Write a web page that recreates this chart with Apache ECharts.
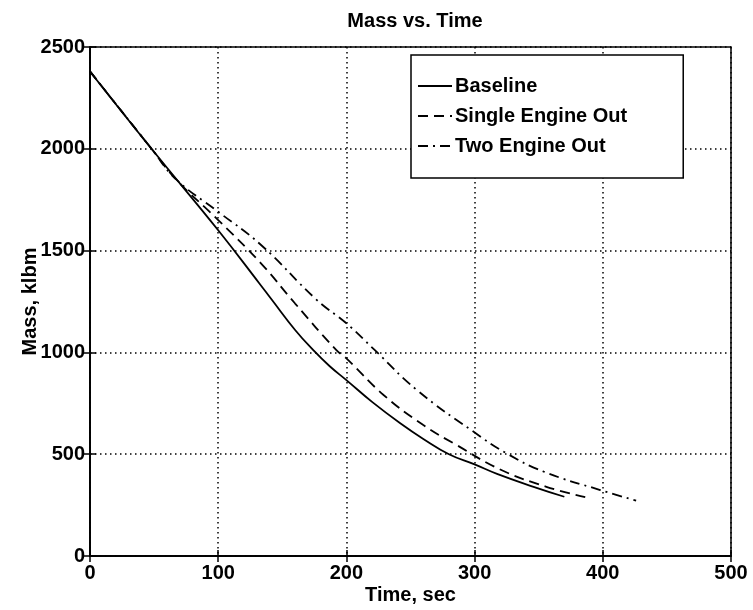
<!DOCTYPE html>
<html>
<head>
<meta charset="utf-8">
<script src="https://cdn.jsdelivr.net/npm/echarts@6/dist/echarts.min.js"></script>
<style>
html,body{margin:0;padding:0;background:#fff;}
#chart{width:753px;height:610px;}
</style>
</head>
<body>
<div id="chart"></div>
<script>
// Data
const baselineTime = [0, 48, 100, 132, 142, 160, 174, 187, 200, 220, 242, 260, 280, 300, 318, 346, 370];
const baselineMass = [2380, 2000, 1600, 1340, 1257, 1110, 1012, 932, 864, 757, 652, 575, 500, 450, 402, 340, 291];

const singleTime = [0, 48, 67, 100, 133, 160, 192, 200, 229, 260, 286, 320, 356, 387];
const singleMass = [2380, 2000, 1851, 1650, 1440, 1240, 1012, 971, 791, 643, 545, 425, 340, 288];

const twoTime = [0, 48, 67, 100, 133, 177, 200, 222, 255, 299, 325, 354, 398, 426];
const twoMass = [2380, 2000, 1851, 1691, 1530, 1257, 1143, 1012, 815, 611, 504, 414, 324, 272];

const seriesNames = ['Baseline', 'Single Engine Out', 'Two Engine Out'];
const xTicks = [0, 100, 200, 300, 400, 500];
const yTicks = [0, 500, 1000, 1500, 2000, 2500];

function pairs(t, m) { return t.map((v, i) => [v, m[i]]); }

const FONT = 'Liberation Sans, Arial, sans-serif';
const chart = echarts.init(document.getElementById('chart'), null, {renderer: 'canvas'});

const axisCommon = {
  axisLine: {show: true, lineStyle: {color: '#000', width: 1.5}},
  axisTick: {show: true, inside: true, length: 6, lineStyle: {color: '#000', width: 1.5}},
};
const txt = {fontFamily: FONT, fontSize: 20, fontWeight: 'bold', color: '#000'};

chart.setOption({
  animation: false,
  backgroundColor: '#fff',
  title: {
    text: 'Mass vs. Time',
    left: 410, top: 6, textAlign: 'center',
    textStyle: Object.assign({}, txt)
  },
  grid: {left: 90, right: 22, top: 47, bottom: 54, show: true, borderColor: '#000', borderWidth: 1.5, containLabel: false},
  legend: {
    orient: 'vertical',
    left: 411, top: 55,
    padding: [21, 56, 22, 6],
    itemGap: 10,
    itemWidth: 34, itemHeight: 20,
    backgroundColor: '#fff',
    borderColor: '#000', borderWidth: 1.5, borderRadius: 0,
    itemStyle: {opacity: 0},
    data: seriesNames,
    textStyle: Object.assign({}, txt, {padding: [0, 0, 0, -2]})
  },
  xAxis: [{
    type: 'value', min: xTicks[0], max: xTicks[xTicks.length - 1], interval: 100,
    name: 'Time, sec', nameLocation: 'middle', nameGap: 29, nameMoveOverlap: false,
    nameTextStyle: Object.assign({}, txt),
    axisLabel: Object.assign({}, txt, {margin: 7, formatter: v => String(v)}),
    splitLine: {show: true, lineStyle: {color: '#000', width: 1.5, type: [1.5, 3.5]}},
    ...axisCommon
  }, {
    type: 'value', position: 'top', min: 0, max: 500, interval: 100,
    axisLabel: {show: false}, splitLine: {show: false},
    ...axisCommon
  }],
  yAxis: [{
    type: 'value', min: yTicks[0], max: yTicks[yTicks.length - 1], interval: 500,
    name: 'Mass, klbm', nameLocation: 'middle', nameGap: 50, nameMoveOverlap: false,
    nameTextStyle: Object.assign({}, txt),
    axisLabel: Object.assign({}, txt, {margin: 5, formatter: v => String(v)}),
    splitLine: {show: true, lineStyle: {color: '#000', width: 1.5, type: [1.5, 3.5]}},
    ...axisCommon
  }, {
    type: 'value', position: 'right', min: 0, max: 2500, interval: 500,
    axisLabel: {show: false}, splitLine: {show: false},
    ...axisCommon
  }],
  series: [{
    name: seriesNames[0], type: 'line', symbol: 'none', smooth: 0.45,
    data: pairs(baselineTime, baselineMass),
    lineStyle: {color: '#000', width: 1.8, type: 'solid'},
    itemStyle: {color: '#000'}, z: 5
  }, {
    name: seriesNames[1], type: 'line', symbol: 'none', smooth: 0.45,
    data: pairs(singleTime, singleMass),
    lineStyle: {color: '#000', width: 1.8, type: [10, 6]},
    itemStyle: {color: '#000'}, z: 4
  }, {
    name: seriesNames[2], type: 'line', symbol: 'none', smooth: 0.45,
    data: pairs(twoTime, twoMass),
    lineStyle: {color: '#000', width: 1.8, type: [10, 5, 2, 5]},
    itemStyle: {color: '#000'}, z: 3
  }]
});
</script>
</body>
</html>
